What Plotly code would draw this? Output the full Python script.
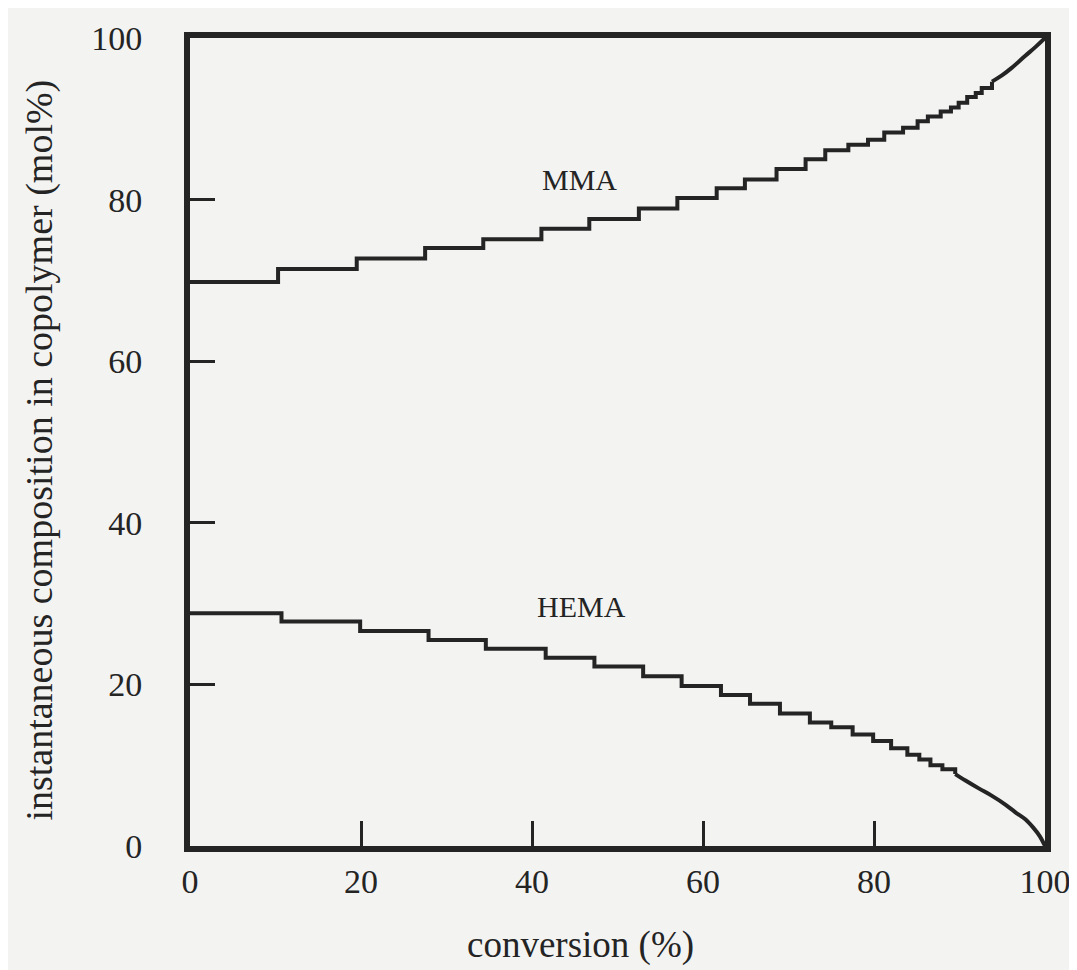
import plotly.graph_objects as go

# staircase part: conversion (%) at which each composition step begins, and level
mma_conv = [0, 10.3, 19.5, 27.5, 34.3, 41.1, 46.7, 52.5, 57.0, 61.6, 64.9, 68.6,
            72.0, 74.3, 77.0, 79.3, 81.2, 83.4, 85.1, 86.3, 87.8, 89.0, 89.9,
            90.9, 91.9, 92.6, 93.8]
mma_comp = [69.8, 71.4, 72.7, 74.0, 75.1, 76.4, 77.6, 78.9, 80.2, 81.4, 82.5, 83.8,
            85.0, 86.1, 86.8, 87.4, 88.3, 88.9, 89.7, 90.3, 90.9, 91.4, 92.0,
            92.7, 93.2, 93.8, 94.6]
# smooth tail at high conversion
mma_tail_conv = [93.8, 95.0, 96.1, 97.7, 98.9, 100]
mma_tail_comp = [94.6, 95.4, 96.3, 97.8, 98.9, 100]

hema_conv = [0, 10.7, 19.9, 27.9, 34.6, 41.6, 47.3, 53.0, 57.5, 62.1, 65.5, 69.0,
             72.5, 75.0, 77.5, 79.9, 82.0, 83.9, 85.3, 86.6, 88.0, 89.5]
hema_comp = [28.8, 27.8, 26.6, 25.5, 24.4, 23.3, 22.2, 21.0, 19.8, 18.7, 17.6, 16.4,
             15.3, 14.7, 13.8, 13.0, 12.1, 11.3, 10.7, 10.0, 9.5, 8.9]
hema_tail_conv = [89.5, 90.7, 92.3, 93.8, 95.4, 96.5, 97.7, 98.6, 99.4, 100]
hema_tail_comp = [8.9, 8.1, 7.1, 6.2, 5.1, 4.2, 3.3, 2.3, 1.2, 0]

x_ticks = [0, 20, 40, 60, 80, 100]
y_ticks = [0, 20, 40, 60, 80, 100]

ink = "#242424"
bg = "#f3f3f2"
font_family = "Liberation Serif, Times New Roman, serif"

fig = go.Figure()
for cx, cy, shape in [(mma_conv, mma_comp, "hv"), (mma_tail_conv, mma_tail_comp, "spline"),
                      (hema_conv, hema_comp, "hv"), (hema_tail_conv, hema_tail_comp, "spline")]:
    fig.add_trace(go.Scatter(x=cx, y=cy, mode="lines", line_shape=shape,
                             line=dict(color=ink, width=4), showlegend=False))

fig.add_annotation(x=45.6, y=82.5, text="MMA", showarrow=False,
                   font=dict(family=font_family, size=30, color=ink))
fig.add_annotation(x=45.8, y=29.7, text="HEMA", showarrow=False,
                   font=dict(family=font_family, size=30, color=ink))

# axis titles
fig.add_annotation(xref="paper", yref="paper", x=0.457, y=-0.122,
                   xanchor="center", yanchor="middle", text="conversion (%)",
                   showarrow=False, font=dict(family=font_family, size=37, color=ink))
fig.add_annotation(xref="paper", yref="paper", x=-0.176, y=0.49,
                   xanchor="center", yanchor="middle", textangle=-90,
                   text="instantaneous composition in copolymer (mol%)",
                   showarrow=False, font=dict(family=font_family, size=38, color=ink))

axis_common = dict(
    showgrid=False, zeroline=False,
    showline=True, linewidth=6, linecolor=ink, mirror=True,
    ticks="inside", ticklen=25, tickwidth=3, tickcolor=ink,
    tickfont=dict(family=font_family, size=34, color=ink),
)

fig.update_xaxes(range=[0, 100], tickvals=x_ticks, ticktext=[str(v) for v in x_ticks],
                 ticklabelstandoff=0, **axis_common)
fig.update_yaxes(range=[0, 100], tickvals=y_ticks, ticktext=[str(v) for v in y_ticks],
                 ticklabelstandoff=35, **axis_common)

fig.update_layout(
    width=1077, height=970,
    margin=dict(l=182, r=40, t=27, b=132),
    paper_bgcolor=bg, plot_bgcolor=bg,
    font=dict(family=font_family, color=ink),
)

fig.write_html("out.html")
